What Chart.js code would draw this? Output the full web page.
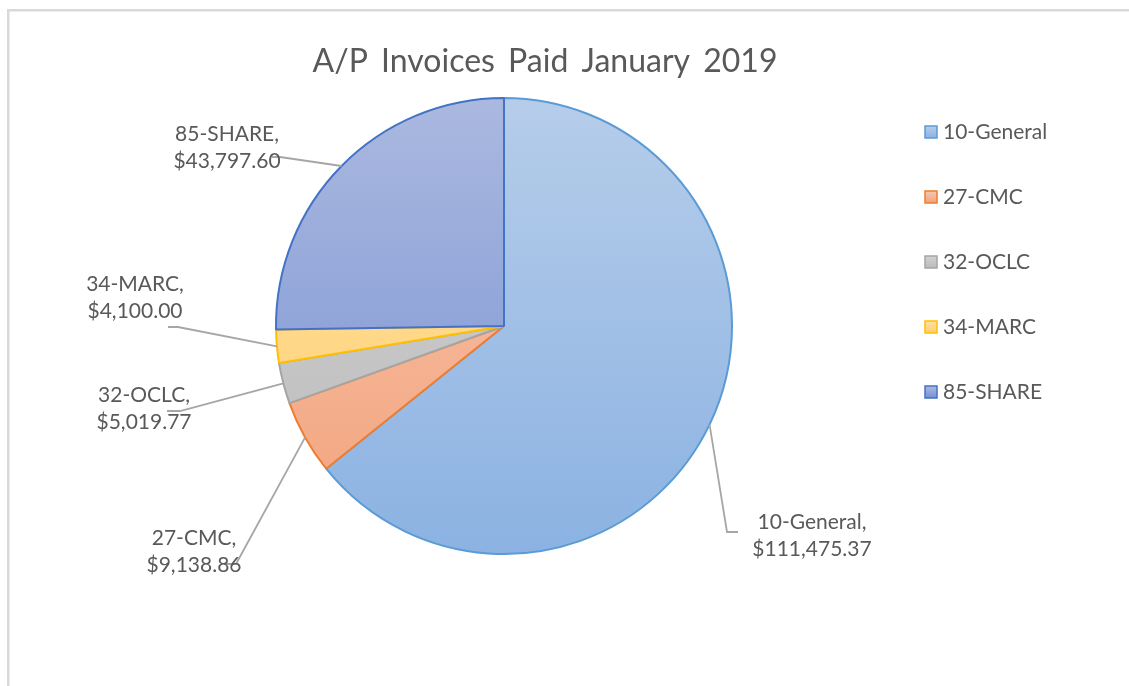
<!DOCTYPE html>
<html>
<head>
<meta charset="utf-8">
<script src="https://cdn.jsdelivr.net/npm/chart.js@4.4.0/dist/chart.umd.min.js"></script>
<style>
  html, body { margin: 0; padding: 0; background: #fff; }
  #wrap { position: relative; width: 1129px; height: 686px; }
</style>
</head>
<body>
<div id="wrap"><canvas id="pie" width="1129" height="686"></canvas></div>
<script>
const titleText = "A/P Invoices Paid January 2019";
const categories = ["10-General", "27-CMC", "32-OCLC", "34-MARC", "85-SHARE"];
const amounts = [111475.37, 9138.86, 5019.77, 4100.0, 43797.6];

// colours: gradient top, gradient bottom, border
const fillTop = ["#b6cdea", "#f8c7b0", "#d3d3d3", "#ffe1a4", "#abb9e0"];
const fillBottom = ["#8bb2e2", "#f2a27b", "#bababa", "#ffcf70", "#7690d2"];
const borders = ["#5b9bd5", "#ed7d31", "#a5a5a5", "#ffc000", "#4472c4"];

// label placement (Excel-style, text centre + leader elbow/end)
const labelLayout = [
  { cx: 812, cy: 536, elbow: [727, 532], end: [738, 532] },
  { cx: 194, cy: 552, elbow: [236, 564], end: [224, 564] },
  { cx: 144, cy: 409, elbow: [180, 411], end: [167, 411] },
  { cx: 135, cy: 298, elbow: [178, 327], end: [168, 327] },
  { cx: 227, cy: 148, elbow: [280, 157], end: [272, 157] },
];

const TEXT = "#595959";
const FONT = "Lato, 'Open Sans', sans-serif";
const fmt = (v) =>
  "$" + v.toLocaleString("en-US", { minimumFractionDigits: 2, maximumFractionDigits: 2 });

const gradCache = {};
function sliceFill(c) {
  const area = c.chart.chartArea;
  const i = c.dataIndex;
  if (!area) return fillTop[i];
  const key = i + ":" + area.top + ":" + area.bottom;
  if (!gradCache[key]) {
    const g = c.chart.ctx.createLinearGradient(0, area.top, 0, area.bottom);
    g.addColorStop(0, fillTop[i]);
    g.addColorStop(1, fillBottom[i]);
    gradCache[key] = g;
  }
  return gradCache[key];
}

const decor = {
  id: "decor",
  beforeDraw(chart) {
    const ctx = chart.ctx;
    ctx.save();
    ctx.fillStyle = "#d9d9d9";
    ctx.fillRect(7, 9, chart.width - 7, 2.5);
    ctx.fillRect(7, 9, 2.5, chart.height - 9);
    // title
    ctx.fillStyle = TEXT;
    ctx.font = "32px " + FONT;
    ctx.textAlign = "center";
    ctx.textBaseline = "middle";
    if ("wordSpacing" in ctx) ctx.wordSpacing = "5px";
    ctx.fillText(titleText, 545, 62);
    ctx.restore();
  },
  afterDatasetsDraw(chart) {
    const ctx = chart.ctx;
    const arcs = chart.getDatasetMeta(0).data;
    ctx.save();
    arcs.forEach((arc, i) => {
      const mid = (arc.startAngle + arc.endAngle) / 2;
      const r = arc.outerRadius;
      const lay = labelLayout[i];
      ctx.strokeStyle = "#a6a6a6";
      ctx.lineWidth = 1.8;
      ctx.beginPath();
      ctx.moveTo(arc.x + Math.cos(mid) * r, arc.y + Math.sin(mid) * r);
      ctx.lineTo(lay.elbow[0], lay.elbow[1]);
      ctx.lineTo(lay.end[0], lay.end[1]);
      ctx.stroke();
      ctx.fillStyle = TEXT;
      ctx.font = "21px " + FONT;
      ctx.textAlign = "center";
      ctx.textBaseline = "middle";
      ctx.fillText(categories[i] + ",", lay.cx, lay.cy - 13.5);
      ctx.fillText(fmt(amounts[i]), lay.cx, lay.cy + 13.5);
    });
    // legend
    categories.forEach((name, i) => {
      const y = 132 + i * 65;
      const g = ctx.createLinearGradient(0, y - 6, 0, y + 6);
      g.addColorStop(0, fillTop[i]);
      g.addColorStop(1, fillBottom[i]);
      ctx.fillStyle = g;
      ctx.fillRect(925, y - 6, 12, 12);
      ctx.strokeStyle = borders[i];
      ctx.lineWidth = 1.5;
      ctx.strokeRect(925, y - 6, 12, 12);
      ctx.fillStyle = TEXT;
      ctx.font = "21px " + FONT;
      ctx.textAlign = "left";
      ctx.textBaseline = "middle";
      ctx.fillText(name, 943, y);
    });
    ctx.restore();
  },
};

new Chart(document.getElementById("pie").getContext("2d"), {
  type: "pie",
  data: {
    labels: categories,
    datasets: [
      {
        data: amounts,
        backgroundColor: sliceFill,
        borderColor: borders,
        borderWidth: 2,
        borderAlign: "center",
      },
    ],
  },
  options: {
    responsive: false,
    animation: false,
    devicePixelRatio: 1,
    layout: { padding: { left: 275, right: 396, top: 97, bottom: 131 } },
    plugins: {
      legend: { display: false },
      tooltip: { enabled: false },
      title: { display: false },
    },
  },
  plugins: [decor],
});
</script>
</body>
</html>
